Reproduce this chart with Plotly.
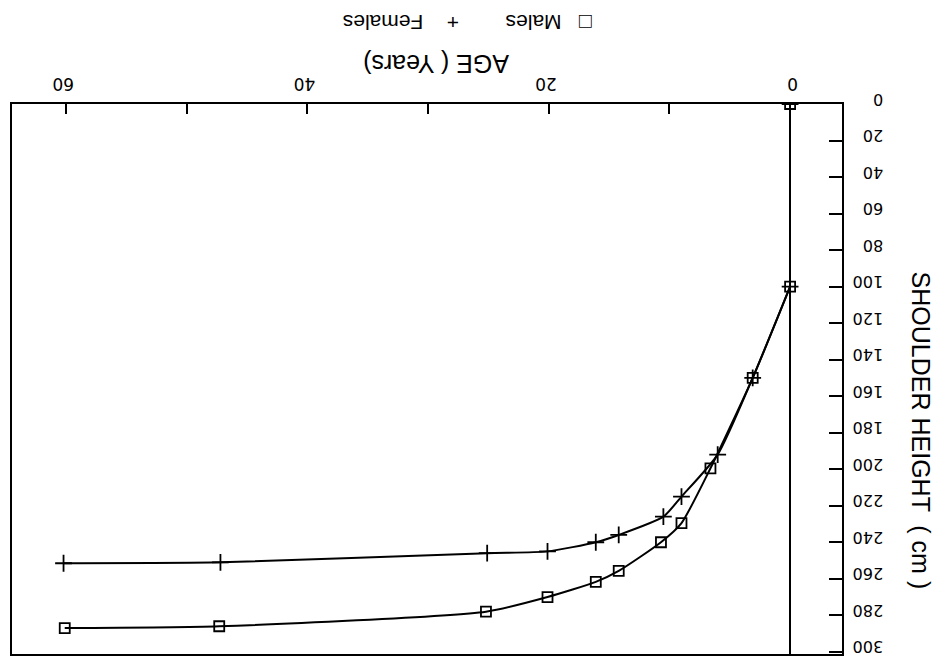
import plotly.graph_objects as go

# Data read from the (upside-down) scanned chart
male_age = [0, 0, 3.1, 6.6, 9.0, 10.7, 14.2, 16.1, 20.1, 25.2, 47.3, 60.1]
male_height = [0, 100, 150, 199.5, 229.5, 240, 255.7, 261.7, 270, 278, 286, 287]

female_age = [0, 0, 3.1, 6.0, 9.0, 10.5, 14.2, 16.1, 20.1, 25.1, 47.2, 60.2]
female_height = [0, 100, 150, 192, 215, 226, 236, 240, 245, 246, 251, 251.5]

x_tickvals = [0, 10, 20, 30, 40, 50, 60]
x_ticktext = ["0", "", "20", "", "40", "", "60"]
y_tickvals = [0, 20, 40, 60, 80, 100, 120, 140, 160, 180, 200, 220, 240, 260, 280, 300]
y_ticktext = [str(v) for v in y_tickvals]

FONT = "Liberation Sans"
TICKFONT = "DejaVu Sans"

fig = go.Figure()
# smooth curves start at birth (second point); the first point sits on the zero line
fig.add_trace(go.Scatter(
    x=male_age[1:], y=male_height[1:], mode="lines",
    line=dict(color="black", width=2, shape="spline", smoothing=0.6), hoverinfo="skip",
))
fig.add_trace(go.Scatter(
    x=female_age[1:], y=female_height[1:], mode="lines",
    line=dict(color="black", width=2, shape="spline", smoothing=0.6), hoverinfo="skip",
))
fig.add_trace(go.Scatter(
    x=male_age, y=male_height, mode="markers", name="Males",
    marker=dict(symbol="square-open", size=10, color="black", line=dict(width=1.8)),
))
fig.add_trace(go.Scatter(
    x=female_age, y=female_height, mode="markers", name="Females",
    marker=dict(symbol="cross-thin-open", size=12, color="black", line=dict(width=1.8)),
))

fig.update_layout(
    width=941, height=666,
    margin=dict(l=10, r=99, t=104, b=11),
    paper_bgcolor="white", plot_bgcolor="white",
    showlegend=False,
    font=dict(family=FONT, color="black"),
    xaxis=dict(
        range=[64.47, -4.3], side="top",
        tickvals=x_tickvals, ticktext=x_ticktext, tickangle=180,
        ticks="inside", ticklen=10, tickwidth=1.5, tickcolor="black",
        showline=True, linecolor="black", linewidth=2, mirror=True,
        showgrid=False, zeroline=True, zerolinecolor="black", zerolinewidth=1.5,
        ticklabelshift=-8,
        tickfont=dict(size=17, family=TICKFONT),
    ),
    yaxis=dict(
        range=[301.2, 0], side="right",
        tickvals=y_tickvals, ticktext=y_ticktext, tickangle=180,
        ticks="inside", ticklen=13, tickwidth=1.5, tickcolor="black",
        showline=True, linecolor="black", linewidth=2, mirror=True,
        showgrid=False, zeroline=False, ticklabelstandoff=36,
        tickfont=dict(size=16, family=TICKFONT),
    ),
    annotations=[
        dict(text="AGE ( Years)", xref="paper", yref="paper", x=(435 - 10) / 832, y=1 + (104 - 64) / 551,
             xanchor="center", yanchor="middle",
             showarrow=False, textangle=180, font=dict(size=25, family=FONT)),
        dict(text="\u25a1   Males        +    Females", xref="paper", yref="paper", x=(466 - 10) / 832, y=1 + (104 - 23) / 551,
             xanchor="center", yanchor="middle",
             showarrow=False, textangle=180, font=dict(size=21, family=FONT)),
        dict(text="SHOULDER HEIGHT  ( cm )", xref="paper", yref="paper", x=1 + (921 - 842) / 832, y=1 - (431 - 104) / 551,
             xanchor="center", yanchor="middle",
             showarrow=False, textangle=90, font=dict(size=25, family=FONT)),
    ],
)

fig.write_html("out.html")
